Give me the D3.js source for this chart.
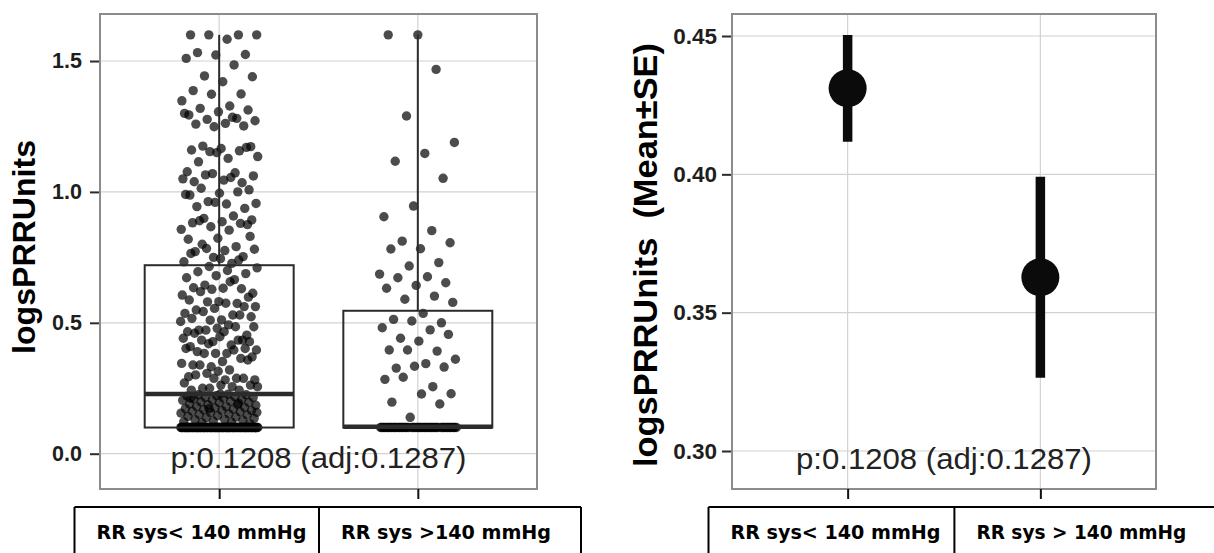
<!DOCTYPE html>
<html>
<head>
<meta charset="utf-8">
<script src="https://cdn.jsdelivr.net/npm/d3@7"></script>
<style>
  body { margin: 0; background: #fff; }
  svg { display: block; }
</style>
</head>
<body>
<svg id="chart" width="1214" height="553"></svg>
<script>
// ---- data ----
const categoriesLeft = ["RR sys< 140 mmHg", "RR sys >140 mmHg"];
const categoriesRight = ["RR sys< 140 mmHg", "RR sys > 140 mmHg"];

// individual logsPRRUnits observations, RR sys < 140 mmHg
const valuesLow = [
  1.60, 1.60, 1.60, 1.60, 1.583, 1.532, 1.525, 1.523, 1.51, 1.485, 1.443, 1.44, 1.421, 1.387, 1.374, 1.373,
  1.348, 1.328, 1.319, 1.313, 1.306, 1.294, 1.281, 1.277, 1.272, 1.262, 1.259, 1.252, 1.249, 1.30, 1.285,
  1.175, 1.173, 1.166, 1.16, 1.157, 1.154, 1.135, 1.128, 1.115, 1.17, 1.15,
  1.077, 1.073, 1.065, 1.061, 1.045, 1.039, 1.035, 1.07, 1.05, 1.055,
  1.014, 1.008, 0.995, 0.988, 1.0, 0.963, 0.956, 0.954, 0.944, 0.937, 0.96, 0.99,
  0.908, 0.899, 0.893, 0.886, 0.882, 0.88, 0.867, 0.857, 0.854, 0.89, 0.875,
  0.823, 0.819, 0.791, 0.784, 0.781, 0.776, 0.772, 0.753, 0.75, 0.733, 0.727, 0.80, 0.83, 0.745, 0.765, 0.74,
  0.715, 0.71, 0.70, 0.695, 0.688, 0.68, 0.672, 0.665,
  0.644, 0.613, 0.632, 0.634, 0.63, 0.628, 0.606, 0.657, 0.619, 0.598,
  0.581, 0.587, 0.574, 0.58, 0.562, 0.575, 0.549, 0.562, 0.555,
  0.536, 0.53, 0.543, 0.523, 0.511, 0.517, 0.53, 0.51, 0.505,
  0.492, 0.472, 0.453, 0.479, 0.466, 0.485, 0.472, 0.485, 0.466, 0.46,
  0.434, 0.428, 0.441, 0.415, 0.434, 0.428, 0.447, 0.409, 0.434, 0.42,
  0.396, 0.383, 0.39, 0.402, 0.383, 0.402, 0.396, 0.383, 0.37,
  0.352, 0.339, 0.364, 0.332, 0.345, 0.32, 0.339, 0.358, 0.315,
  0.294, 0.288, 0.307, 0.282, 0.282, 0.301, 0.288, 0.288, 0.27,
  0.256, 0.25, 0.262, 0.262, 0.243, 0.243, 0.25, 0.256,
  0.227, 0.225, 0.225, 0.222, 0.22, 0.218, 0.215, 0.215, 0.212, 0.21, 0.208, 0.205, 0.204, 0.2, 0.198, 0.196,
  0.195, 0.19, 0.188, 0.187, 0.185, 0.18, 0.18, 0.177, 0.175, 0.172, 0.17, 0.168, 0.165, 0.165, 0.162, 0.16,
  0.157, 0.155, 0.152, 0.15, 0.148, 0.145, 0.142, 0.14, 0.138, 0.135, 0.132, 0.13, 0.128, 0.125, 0.122, 0.12,
  0.118, 0.115, 0.228, 0.212, 0.193, 0.172, 0.158,
  0.1, 0.1, 0.1, 0.1, 0.1, 0.1, 0.1, 0.1, 0.1, 0.1, 0.1, 0.1, 0.1, 0.1, 0.1, 0.1,
  0.1, 0.1, 0.1, 0.1, 0.1, 0.1, 0.1, 0.1, 0.1, 0.1, 0.1, 0.1, 0.1, 0.1, 0.1, 0.1,
  0.1, 0.1, 0.1, 0.1, 0.1, 0.1, 0.1, 0.1, 0.1, 0.1, 0.1, 0.1, 0.1, 0.1, 0.1, 0.1,
  0.1, 0.1, 0.1, 0.1, 0.1, 0.1, 0.1, 0.1, 0.1, 0.1, 0.1, 0.1, 0.1, 0.1, 0.1, 0.1,
  0.1, 0.1, 0.1, 0.1, 0.1, 0.1, 0.1, 0.1, 0.1, 0.1, 0.1, 0.1, 0.1, 0.1, 0.1, 0.1,
  0.1, 0.1, 0.1, 0.1, 0.1, 0.1, 0.1, 0.1, 0.1, 0.1, 0.1, 0.1, 0.1, 0.1, 0.1, 0.1,
  0.1, 0.1, 0.1, 0.1, 0.1, 0.1, 0.1, 0.1, 0.1, 0.1, 0.1, 0.1, 0.1, 0.1, 0.1, 0.1,
  0.1, 0.1, 0.1, 0.1, 0.1, 0.1, 0.1, 0.1, 0.1, 0.1, 0.1, 0.1, 0.1, 0.1, 0.1, 0.1
];

// individual logsPRRUnits observations, RR sys > 140 mmHg
const valuesHigh = [
  1.6, 1.6, 1.468, 1.29, 1.189, 1.147, 1.117, 1.052, 0.946, 0.905, 0.852, 0.812, 0.806, 0.783, 0.782, 0.73,
  0.717, 0.686, 0.676, 0.672, 0.653, 0.643, 0.632, 0.602, 0.59, 0.578,
  0.536, 0.513, 0.5, 0.507, 0.481, 0.473, 0.441, 0.456, 0.43, 0.396, 0.392, 0.396, 0.361, 0.344, 0.327, 0.331,
  0.334, 0.284, 0.256, 0.292, 0.229, 0.228, 0.197, 0.19, 0.139,
  0.1, 0.1, 0.1, 0.1, 0.1, 0.1, 0.1, 0.1, 0.1, 0.1, 0.1, 0.1, 0.1, 0.1, 0.1, 0.1,
  0.1, 0.1, 0.1, 0.1, 0.1, 0.1, 0.1, 0.1, 0.1, 0.1, 0.1, 0.1, 0.1, 0.1, 0.1, 0.1,
  0.1, 0.1, 0.1, 0.1, 0.1, 0.1, 0.1, 0.1, 0.1, 0.1, 0.1, 0.1, 0.1, 0.1, 0.1, 0.1,
  0.1, 0.1, 0.1, 0.1, 0.1
];

// box summary per group
const boxQ1 = [0.1, 0.1];
const boxMedian = [0.228, 0.103];
const boxQ3 = [0.72, 0.546];
const boxMax = [1.6, 1.6];
const leftTicks = [0.0, 0.5, 1.0, 1.5];

// mean ± standard error per group
const meanValues = [0.4311, 0.3628];
const seValues = [0.0193, 0.0363];
const rightTicks = [0.30, 0.35, 0.40, 0.45];

const pLabel = "p:0.1208 (adj:0.1287)";

// ---- drawing ----
const svg = d3.select("#chart");
const gridColor = "#d2d2d2";
const frameColor = "#8c8c8c";
const inkColor = "#2b2b2b";

function panelFrame(x0, x1, y0, y1, x, y, ticks) {
  const g = svg.append("g");
  g.selectAll("line.h").data(ticks).join("line")
    .attr("x1", x0).attr("x2", x1)
    .attr("y1", d => y(d)).attr("y2", d => y(d))
    .attr("stroke", gridColor).attr("stroke-width", 1.2);
  g.selectAll("line.v").data(x.domain()).join("line")
    .attr("x1", d => x(d)).attr("x2", d => x(d))
    .attr("y1", y1).attr("y2", y0)
    .attr("stroke", gridColor).attr("stroke-width", 1.2);
}

function panelBorder(x0, x1, y0, y1) {
  svg.append("rect")
    .attr("x", x0).attr("y", y0)
    .attr("width", x1 - x0).attr("height", y1 - y0)
    .attr("fill", "none").attr("stroke", frameColor).attr("stroke-width", 2);
}

function yAxis(scale, ticks, fmt, xPos, pad, size) {
  const g = svg.append("g")
    .attr("transform", `translate(${xPos},0)`)
    .call(d3.axisLeft(scale).tickValues(ticks).tickFormat(d3.format(fmt)).tickSize(9).tickPadding(pad));
  g.select(".domain").remove();
  g.selectAll(".tick line").attr("stroke", inkColor).attr("stroke-width", 2);
  g.selectAll(".tick text")
    .attr("fill", "#1e1e1e")
    .style("font-family", "'Liberation Sans', Arial, sans-serif")
    .style("font-weight", "bold")
    .style("font-size", size + "px");
}

function xAxis(scale, yPos) {
  const g = svg.append("g")
    .attr("transform", `translate(0,${yPos})`)
    .call(d3.axisBottom(scale).tickSize(10).tickFormat(""));
  g.select(".domain").remove();
  g.selectAll(".tick line").attr("stroke", "#111").attr("stroke-width", 2);
}

function yTitle(text, x, y, size, len) {
  svg.append("text")
    .attr("transform", `translate(${x},${y}) rotate(-90)`)
    .attr("text-anchor", "middle")
    .attr("textLength", len).attr("lengthAdjust", "spacingAndGlyphs")
    .style("white-space", "pre")
    .style("font-family", "'Liberation Sans', Arial, sans-serif")
    .style("font-weight", "bold")
    .style("font-size", size + "px")
    .attr("fill", "#000")
    .text(text);
}

function pText(cx, y) {
  svg.append("text")
    .attr("x", cx).attr("y", y)
    .attr("text-anchor", "middle")
    .attr("textLength", 296).attr("lengthAdjust", "spacingAndGlyphs")
    .style("font-family", "'Liberation Sans', Arial, sans-serif")
    .style("font-size", "30px")
    .attr("fill", "#222")
    .text(pLabel);
}

function categoryCells(edges, labels, top) {
  const g = svg.append("g");
  g.append("line").attr("x1", edges[0]).attr("x2", edges[2])
    .attr("y1", top).attr("y2", top).attr("stroke", "#000").attr("stroke-width", 2);
  g.selectAll("line.e").data(edges).join("line")
    .attr("x1", d => d).attr("x2", d => d)
    .attr("y1", top).attr("y2", 560)
    .attr("stroke", "#000").attr("stroke-width", 2);
  g.selectAll("text").data(labels).join("text")
    .attr("x", (d, i) => edges[i] + 22)
    .attr("y", top + 32)
    .attr("textLength", 210).attr("lengthAdjust", "spacingAndGlyphs")
    .style("white-space", "pre")
    .style("font-family", "'DejaVu Sans', Verdana, sans-serif")
    .style("font-weight", "bold")
    .style("font-size", "19.5px")
    .attr("fill", "#000")
    .text(d => d);
}

// ----- left panel: jittered points with box -----
const L = { x0: 100, x1: 537, y0: 14, y1: 489 };
const xL = d3.scalePoint().domain(categoriesLeft).range([L.x0, L.x1]).padding(0.6);
const yL = d3.scaleLinear().domain([-0.1348, 1.6796]).range([L.y1, L.y0]);

panelFrame(L.x0, L.x1, L.y0, L.y1, xL, yL, leftTicks);

const step = xL.step();
const jitterHalf = 0.195 * step;
const points = [];
[valuesLow, valuesHigh].forEach((vals, gi) => {
  vals.forEach((v, i) => {
    const u = ((i * 0.6180339887 + gi * 0.37 + 0.13) % 1) * 2 - 1;
    points.push({ cat: categoriesLeft[gi], v, dx: u * jitterHalf });
  });
});

svg.append("g").selectAll("circle").data(points).join("circle")
  .attr("cx", d => xL(d.cat) + d.dx)
  .attr("cy", d => yL(d.v))
  .attr("r", 4.7)
  .attr("fill", "#000")
  .attr("fill-opacity", 0.7);

const boxW = 0.75 * step;
const boxes = categoriesLeft.map((c, i) => ({ c, q1: boxQ1[i], med: boxMedian[i], q3: boxQ3[i], max: boxMax[i] }));
const bg = svg.append("g");
bg.selectAll("line.whisker").data(boxes).join("line")
  .attr("x1", d => xL(d.c)).attr("x2", d => xL(d.c))
  .attr("y1", d => yL(d.q3)).attr("y2", d => yL(d.max))
  .attr("stroke", inkColor).attr("stroke-width", 2);
bg.selectAll("rect").data(boxes).join("rect")
  .attr("x", d => xL(d.c) - boxW / 2)
  .attr("width", boxW)
  .attr("y", d => yL(d.q3))
  .attr("height", d => yL(d.q1) - yL(d.q3))
  .attr("fill", "none").attr("stroke", inkColor).attr("stroke-width", 2);
bg.selectAll("line.median").data(boxes).join("line")
  .attr("x1", d => xL(d.c) - boxW / 2).attr("x2", d => xL(d.c) + boxW / 2)
  .attr("y1", d => yL(d.med)).attr("y2", d => yL(d.med))
  .attr("stroke", inkColor).attr("stroke-width", 4.5);

pText((L.x0 + L.x1) / 2, 468);
panelBorder(L.x0, L.x1, L.y0, L.y1);
yAxis(yL, leftTicks, ".1f", L.x0 - 1, 8, 21.5);
xAxis(xL, L.y1);
yTitle("logsPRRUnits", 35, 247, 31, 214);
categoryCells([74.5, 319, 581], categoriesLeft, 507);

// ----- right panel: mean ± SE -----
const R = { x0: 732, x1: 1156, y0: 14, y1: 489 };
const xR = d3.scalePoint().domain(categoriesRight).range([R.x0, R.x1]).padding(0.6);
const yR = d3.scaleLinear().domain([0.28627, 0.45795]).range([R.y1, R.y0]);

panelFrame(R.x0, R.x1, R.y0, R.y1, xR, yR, rightTicks);

const summary = categoriesRight.map((c, i) => ({ c, m: meanValues[i], se: seValues[i] }));
const sg = svg.append("g");
sg.selectAll("line").data(summary).join("line")
  .attr("x1", d => xR(d.c)).attr("x2", d => xR(d.c))
  .attr("y1", d => yR(d.m - d.se)).attr("y2", d => yR(d.m + d.se))
  .attr("stroke", "#0b0b0b").attr("stroke-width", 9.5);
sg.selectAll("circle").data(summary).join("circle")
  .attr("cx", d => xR(d.c)).attr("cy", d => yR(d.m))
  .attr("r", 19).attr("fill", "#0b0b0b");

pText((R.x0 + R.x1) / 2, 469);
panelBorder(R.x0, R.x1, R.y0, R.y1);
yAxis(yR, rightTicks, ".2f", R.x0 - 1, 5, 22.5);
xAxis(xR, R.y1);
yTitle("logsPRRUnits  (Mean\u00B1SE)", 657, 255, 33, 424);
categoryCells([708.5, 954.4, 1222], categoriesRight, 507);
</script>
</body>
</html>
